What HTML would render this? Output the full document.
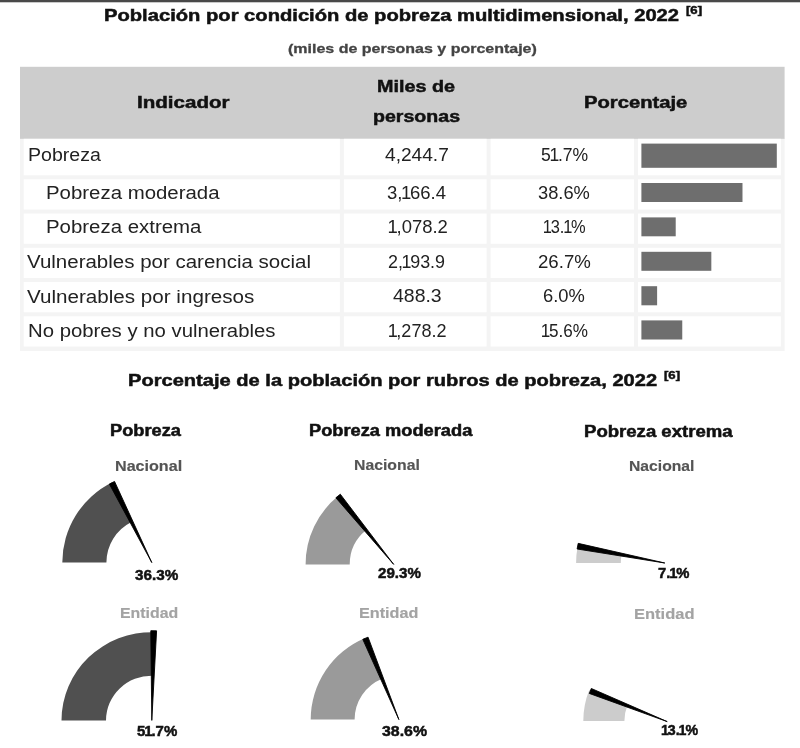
<!DOCTYPE html>
<html lang="es">
<head>
<meta charset="utf-8">
<title>Población por condición de pobreza multidimensional, 2022</title>
<style>
html,body{margin:0;padding:0;background:#fff;}
body{width:800px;height:748px;overflow:hidden;position:relative;font-family:"Liberation Sans",sans-serif;}
#page{position:absolute;left:0;top:0;width:800px;height:748px;overflow:hidden;background:#fff;}
.topbar{position:absolute;left:0;top:0;width:800px;height:3px;background:linear-gradient(#494949 0,#494949 2px,#c9c9c9 2px,#c9c9c9 3px);}
.t{position:absolute;margin:0;padding:0;line-height:1;white-space:nowrap;transform-origin:0 0;font-weight:400;display:block;}
.b{-webkit-text-stroke:0.5px currentColor;}
.gl.b{-webkit-text-stroke:0.15px currentColor;}
.sub.b{-webkit-text-stroke:0.3px currentColor;}
.n1{margin:0 -0.075em;}
svg{position:absolute;left:0;top:0;overflow:visible;}
</style>
</head>
<body>
<div id="page">
<div class="topbar"></div>

<header>
<h2 class="t title b" style="left:103.52px;top:7.31px;font-size:17px;transform:scaleX(1.1867);font-weight:700;color:#111;">Población por condición de pobreza multidimensional, 2022</h2>
<sup class="t sup b" style="left:685.50px;top:5.44px;font-size:11px;transform:scaleX(1.1918);font-weight:700;color:#111;">[6]</sup>
<p class="t sub b" style="left:287.60px;top:42.41px;font-size:13.4px;transform:scaleX(1.1942);font-weight:700;color:#444;">(miles de personas y porcentaje)</p>
</header>
<section class="tabla" role="table">
<svg class="grid" width="800" height="360" viewBox="0 0 800 360">
<rect x="20.0" y="137.8" width="764.60" height="213.20" fill="#f4f4f4"/>
<rect x="20.0" y="66.8" width="764.60" height="72.00" fill="#cdcdcd"/>
<rect x="23.70" y="138.80" width="316.20" height="36.50" fill="#fff"/>
<rect x="343.90" y="138.80" width="142.70" height="36.50" fill="#fff"/>
<rect x="490.60" y="138.80" width="143.40" height="36.50" fill="#fff"/>
<rect x="638.00" y="138.80" width="142.90" height="36.50" fill="#fff"/>
<rect x="641.4" y="143.6" width="135.40" height="24.20" fill="#6e6e6e"/>
<rect x="23.70" y="179.30" width="316.20" height="30.24" fill="#fff"/>
<rect x="343.90" y="179.30" width="142.70" height="30.24" fill="#fff"/>
<rect x="490.60" y="179.30" width="143.40" height="30.24" fill="#fff"/>
<rect x="638.00" y="179.30" width="142.90" height="30.24" fill="#fff"/>
<rect x="641.4" y="183.0" width="101.09" height="19.00" fill="#6e6e6e"/>
<rect x="23.70" y="213.54" width="316.20" height="30.24" fill="#fff"/>
<rect x="343.90" y="213.54" width="142.70" height="30.24" fill="#fff"/>
<rect x="490.60" y="213.54" width="143.40" height="30.24" fill="#fff"/>
<rect x="638.00" y="213.54" width="142.90" height="30.24" fill="#fff"/>
<rect x="641.4" y="217.4" width="34.31" height="18.90" fill="#6e6e6e"/>
<rect x="23.70" y="247.78" width="316.20" height="30.24" fill="#fff"/>
<rect x="343.90" y="247.78" width="142.70" height="30.24" fill="#fff"/>
<rect x="490.60" y="247.78" width="143.40" height="30.24" fill="#fff"/>
<rect x="638.00" y="247.78" width="142.90" height="30.24" fill="#fff"/>
<rect x="641.4" y="251.8" width="69.93" height="19.00" fill="#6e6e6e"/>
<rect x="23.70" y="282.02" width="316.20" height="30.24" fill="#fff"/>
<rect x="343.90" y="282.02" width="142.70" height="30.24" fill="#fff"/>
<rect x="490.60" y="282.02" width="143.40" height="30.24" fill="#fff"/>
<rect x="638.00" y="282.02" width="142.90" height="30.24" fill="#fff"/>
<rect x="641.4" y="286.2" width="15.71" height="19.10" fill="#6e6e6e"/>
<rect x="23.70" y="316.26" width="316.20" height="30.24" fill="#fff"/>
<rect x="343.90" y="316.26" width="142.70" height="30.24" fill="#fff"/>
<rect x="490.60" y="316.26" width="143.40" height="30.24" fill="#fff"/>
<rect x="638.00" y="316.26" width="142.90" height="30.24" fill="#fff"/>
<rect x="641.4" y="320.4" width="40.86" height="19.10" fill="#6e6e6e"/>
</svg>
<div role="row">
<div class="t th b" style="left:136.50px;top:94.44px;font-size:17.2px;transform:scaleX(1.1967);font-weight:700;color:#111;">Indicador</div>
<div class="t th b" style="left:377.06px;top:78.24px;font-size:17.2px;transform:scaleX(1.1500);font-weight:700;color:#111;">Miles de</div>
<div class="t th b" style="left:372.83px;top:108.24px;font-size:17.2px;transform:scaleX(1.1389);font-weight:700;color:#111;">personas</div>
<div class="t th b" style="left:584.33px;top:94.19px;font-size:17.2px;transform:scaleX(1.1756);font-weight:700;color:#111;">Porcentaje</div>
</div>
<div role="row">
<span class="t c1" style="left:28.12px;top:146.94px;font-size:17.5px;transform:scaleX(1.1184);color:#222;">Pobreza</span>
<span class="t c2" style="left:384.96px;top:147.03px;font-size:17.8px;transform:scaleX(1.0759);color:#222;">4,244.7</span>
<span class="t c3" style="left:540.56px;top:147.13px;font-size:17.8px;transform:scaleX(0.9881);color:#222;">5<span class="n1">1</span>.7%</span>
</div>
<div role="row">
<span class="t c1" style="left:46.45px;top:184.94px;font-size:17.5px;transform:scaleX(1.1660);color:#222;">Pobreza moderada</span>
<span class="t c2" style="left:387.22px;top:184.68px;font-size:17.8px;transform:scaleX(1.0396);color:#222;">3,<span class="n1">1</span>66.4</span>
<span class="t c3" style="left:538.03px;top:184.83px;font-size:17.8px;transform:scaleX(1.0286);color:#222;">38.6%</span>
</div>
<div role="row">
<span class="t c1" style="left:46.45px;top:218.94px;font-size:17.5px;transform:scaleX(1.1666);color:#222;">Pobreza extrema</span>
<span class="t c2" style="left:388.80px;top:218.68px;font-size:17.8px;transform:scaleX(1.0386);color:#222;"><span class="n1">1</span>,078.2</span>
<span class="t c3" style="left:543.60px;top:218.68px;font-size:17.8px;transform:scaleX(0.9236);color:#222;"><span class="n1">1</span>3.<span class="n1">1</span>%</span>
</div>
<div role="row">
<span class="t c1" style="left:27.41px;top:254.49px;font-size:17.5px;transform:scaleX(1.1710);color:#222;">Vulnerables por carencia social</span>
<span class="t c2" style="left:388.39px;top:254.23px;font-size:17.8px;transform:scaleX(1.0064);color:#222;">2,<span class="n1">1</span>93.9</span>
<span class="t c3" style="left:537.55px;top:254.23px;font-size:17.8px;transform:scaleX(1.0482);color:#222;">26.7%</span>
</div>
<div role="row">
<span class="t c1" style="left:27.41px;top:288.69px;font-size:17.5px;transform:scaleX(1.1781);color:#222;">Vulnerables por ingresos</span>
<span class="t c2" style="left:393.25px;top:288.43px;font-size:17.8px;transform:scaleX(1.0936);color:#222;">488.3</span>
<span class="t c3" style="left:542.87px;top:288.43px;font-size:17.8px;transform:scaleX(1.0323);color:#222;">6.0%</span>
</div>
<div role="row">
<span class="t c1" style="left:28.06px;top:323.04px;font-size:17.5px;transform:scaleX(1.1616);color:#222;">No pobres y no vulnerables</span>
<span class="t c2" style="left:388.80px;top:322.78px;font-size:17.8px;transform:scaleX(1.0152);color:#222;"><span class="n1">1</span>,278.2</span>
<span class="t c3" style="left:541.50px;top:322.78px;font-size:17.8px;transform:scaleX(0.9617);color:#222;"><span class="n1">1</span>5.6%</span>
</div>
</section>
<section class="medidores">
<h2 class="t title b" style="left:127.72px;top:372.26px;font-size:17px;transform:scaleX(1.1816);font-weight:700;color:#111;">Porcentaje de la población por rubros de pobreza, 2022</h2>
<sup class="t sup b" style="left:663.50px;top:370.44px;font-size:11px;transform:scaleX(1.1918);font-weight:700;color:#111;">[6]</sup>
<h3 class="t gh b" style="left:109.93px;top:423.49px;font-size:15.6px;transform:scaleX(1.1699);font-weight:700;color:#111;">Pobreza</h3>
<h3 class="t gh b" style="left:309.33px;top:423.09px;font-size:15.6px;transform:scaleX(1.1705);font-weight:700;color:#111;">Pobreza moderada</h3>
<h3 class="t gh b" style="left:583.71px;top:424.29px;font-size:15.6px;transform:scaleX(1.1903);font-weight:700;color:#111;">Pobreza extrema</h3>
<div class="t gl b" style="left:114.89px;top:459.08px;font-size:14.5px;transform:scaleX(1.1111);font-weight:700;color:#555;">Nacional</div>
<div class="t gl b" style="left:353.61px;top:457.88px;font-size:14.5px;transform:scaleX(1.0889);font-weight:700;color:#555;">Nacional</div>
<div class="t gl b" style="left:628.52px;top:459.43px;font-size:14.5px;transform:scaleX(1.0821);font-weight:700;color:#555;">Nacional</div>
<div class="t gl b" style="left:120.01px;top:606.08px;font-size:14.5px;transform:scaleX(1.0946);font-weight:700;color:#a3a3a3;">Entidad</div>
<div class="t gl b" style="left:358.78px;top:606.08px;font-size:14.5px;transform:scaleX(1.1180);font-weight:700;color:#a3a3a3;">Entidad</div>
<div class="t gl b" style="left:633.96px;top:606.98px;font-size:14.5px;transform:scaleX(1.1376);font-weight:700;color:#a3a3a3;">Entidad</div>
<svg class="gauges" width="800" height="748" viewBox="0 0 800 748">
<path d="M62.30 562.60 A89.5 89.50 0 0 1 111.85 482.51 L131.54 521.97 A45.4 45.40 0 0 0 106.40 562.60 Z" fill="#505050"/>
<path d="M151.80 562.60 L114.54 481.44 L109.38 484.02 Z" fill="#000" stroke="#000" stroke-width="0.9" stroke-linejoin="round"/>
<path d="M61.50 720.40 A90.3 88.22 0 0 1 153.71 632.20 L152.77 675.66 A45.8 44.75 0 0 0 106.00 720.40 Z" fill="#505050"/>
<path d="M151.80 720.40 L156.59 630.83 L150.80 630.71 Z" fill="#000" stroke="#000" stroke-width="0.9" stroke-linejoin="round"/>
<path d="M305.60 564.40 A88.1 88.10 0 0 1 338.13 496.04 L365.94 530.26 A44.0 44.00 0 0 0 349.70 564.40 Z" fill="#9a9a9a"/>
<path d="M393.70 564.40 L340.30 494.20 L335.88 497.79 Z" fill="#000" stroke="#000" stroke-width="0.9" stroke-linejoin="round"/>
<path d="M310.70 719.60 A88.2 88.20 0 0 1 365.33 638.04 L382.04 678.63 A44.3 44.30 0 0 0 354.60 719.60 Z" fill="#9a9a9a"/>
<path d="M398.90 719.60 L368.05 637.18 L362.80 639.35 Z" fill="#000" stroke="#000" stroke-width="0.9" stroke-linejoin="round"/>
<path d="M576.10 563.00 A88.7 88.70 0 0 1 577.71 546.18 L621.60 554.66 A44.0 44.00 0 0 0 620.80 563.00 Z" fill="#cccccc"/>
<path d="M664.80 563.00 L578.20 543.36 L577.11 548.99 Z" fill="#000" stroke="#000" stroke-width="0.9" stroke-linejoin="round"/>
<path d="M583.30 720.90 A83.7 83.70 0 0 1 589.25 689.91 L627.43 705.13 A42.6 42.60 0 0 0 624.40 720.90 Z" fill="#cccccc"/>
<path d="M667.20 721.60 L591.31 688.48 L589.33 693.44 Z" fill="#000" stroke="#000" stroke-width="0.9" stroke-linejoin="round"/>
</svg>
<div class="t gv b" style="left:134.71px;top:566.73px;font-size:15.5px;transform:scaleX(0.9837);font-weight:700;color:#111;">36.3%</div>
<div class="t gv b" style="left:137.02px;top:723.08px;font-size:15.5px;transform:scaleX(0.9669);font-weight:700;color:#111;">5<span class="n1">1</span>.7%</div>
<div class="t gv b" style="left:377.91px;top:564.73px;font-size:15.5px;transform:scaleX(0.9767);font-weight:700;color:#111;">29.3%</div>
<div class="t gv b" style="left:381.64px;top:723.18px;font-size:15.5px;transform:scaleX(1.0256);font-weight:700;color:#111;">38.6%</div>
<div class="t gv b" style="left:658.48px;top:564.73px;font-size:15.5px;transform:scaleX(0.9543);font-weight:700;color:#111;">7.<span class="n1">1</span>%</div>
<div class="t gv b" style="left:661.53px;top:722.18px;font-size:15.5px;transform:scaleX(0.9172);font-weight:700;color:#111;"><span class="n1">1</span>3.<span class="n1">1</span>%</div>
</section>
</div>
</body>
</html>
